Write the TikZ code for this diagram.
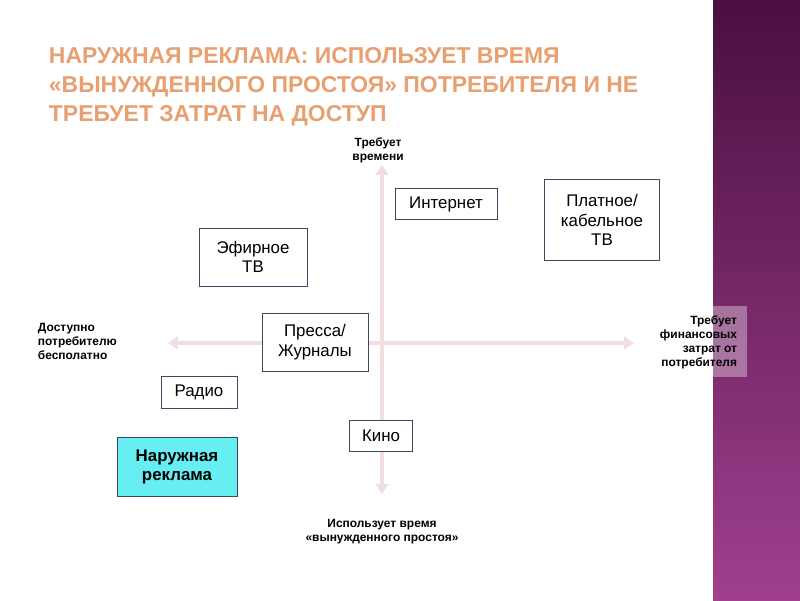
\documentclass[tikz,border=0pt]{standalone}
\usepackage{fontspec}
\setmainfont{Liberation Sans}
\usetikzlibrary{arrows.meta}
\definecolor{boxline}{HTML}{3A4A60}
\definecolor{axis}{HTML}{F2DDE2}
\definecolor{titlefill}{HTML}{E8A070}
\definecolor{titleline}{HTML}{6A2A3A}
\definecolor{stripTop}{HTML}{4A0F40}
\definecolor{stripBot}{HTML}{A0408F}
\definecolor{cyanbox}{HTML}{66EEF2}
\tikzset{
  x=0.025cm,y=-0.025cm,
  cat/.style={draw=boxline,line width=0.6pt,fill=white,align=center,font=\fontsize{12}{14}\selectfont,inner sep=3pt},
  lab/.style={font=\bfseries\fontsize{8.5}{10}\selectfont,align=center},
  ax/.style={draw=axis,line width=2.5pt,{Triangle[length=7pt,width=9pt]}-{Triangle[length=7pt,width=9pt]}}
}
\begin{document}
\begin{tikzpicture}
\useasboundingbox (0,0) rectangle (800,600);
\fill[white] (0,0) rectangle (800,600);
\shade[top color=stripTop,bottom color=stripBot] (713,0) rectangle (800,600);
% title
\node[anchor=west,text=titlefill,font=\bfseries\fontsize{16.3}{20.5}\selectfont,align=left] (title) at (44,87)
 {НАРУЖНАЯ РЕКЛАМА: ИСПОЛЬЗУЕТ ВРЕМЯ\\«ВЫНУЖДЕННОГО ПРОСТОЯ» ПОТРЕБИТЕЛЯ И НЕ\\ТРЕБУЕТ ЗАТРАТ НА ДОСТУП};
% axes
\coordinate (top) at (382,165);
\coordinate (bot) at (382,494);
\coordinate (lft) at (168,343);
\coordinate (rgt) at (634,343);
\draw[ax] (top) -- (bot);
\draw[ax] (lft) -- (rgt);
% labels
\node[lab] (ltop) at (378,150) {Требует\\времени};
\node[lab] (lbot) at (382,532) {Использует время\\«вынужденного простоя»};
\node[lab,align=left,anchor=west] (lleft) at (33,341) {Доступно\\потребителю\\бесполатно};
\fill[white,opacity=0.35] (653,306) rectangle (747,377);
\node[lab,align=right,anchor=east] (lright) at (742,342) {Требует\\финансовых\\затрат от\\потребителя};
% boxes
\node[cat,minimum width=102*0.025cm,minimum height=31*0.025cm] (inet) at (446,204) {Интернет};
\node[cat,minimum width=115*0.025cm,minimum height=81*0.025cm] (paid) at (602,220) {Платное/\\кабельное\\ТВ};
\node[cat,minimum width=108*0.025cm,minimum height=58*0.025cm] (efir) at (253,257) {Эфирное\\ТВ};
\node[cat,minimum width=106*0.025cm,minimum height=58*0.025cm] (press) at (315,342) {Пресса/\\Журналы};
\node[cat,minimum width=76*0.025cm,minimum height=32*0.025cm] (radio) at (199,392) {Радио};
\node[cat,minimum width=63*0.025cm,minimum height=31*0.025cm] (kino) at (381,436) {Кино};
\node[cat,fill=cyanbox,font=\bfseries\fontsize{12}{14}\selectfont,minimum width=120*0.025cm,minimum height=59*0.025cm] (outdoor) at (177,467) {Наружная\\реклама};
\end{tikzpicture}
\end{document}
